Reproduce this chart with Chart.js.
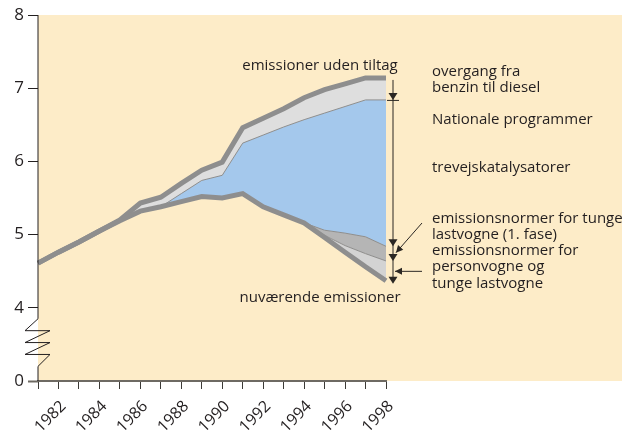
<!DOCTYPE html>
<html>
<head>
<meta charset="utf-8">
<script src="https://cdn.jsdelivr.net/npm/chart.js@4/dist/chart.umd.min.js"></script>
<style>
  html, body { margin: 0; padding: 0; background: #fff; }
  #wrap { width: 625px; height: 430px; }
</style>
</head>
<body>
<div id="wrap"><canvas id="emis" width="625" height="430"></canvas></div>
<script>
// data
var years = ['1981','1982','1983','1984','1985','1986','1987','1988','1989','1990','1991','1992','1993','1994','1995','1996','1997','1998'];
var utenTiltag   = [4.61,4.76,4.90,5.05,5.20,5.43,5.51,5.70,5.88,5.99,6.46,6.59,6.72,6.87,6.98,7.06,7.14,7.14];
var nationale    = [4.61,4.76,4.90,5.05,5.19,5.32,5.38,5.56,5.74,5.81,6.25,6.36,6.47,6.57,6.66,6.75,6.84,6.84];
var katalysator  = [4.61,4.76,4.90,5.05,5.19,5.32,5.38,5.45,5.52,5.50,5.56,5.38,5.27,5.16,5.06,5.02,4.97,4.84];
var tungeLast    = [4.61,4.76,4.90,5.05,5.19,5.32,5.38,5.45,5.52,5.50,5.56,5.38,5.27,5.16,4.99,4.85,4.74,4.64];
var nuvaerende   = [4.61,4.76,4.90,5.05,5.19,5.32,5.38,5.45,5.52,5.50,5.56,5.38,5.27,5.16,4.96,4.76,4.56,4.37];

// y axis is broken: position 3 carries the label "0"
var yTickValues = [3, 4, 5, 6, 7, 8];
var yTickLabels = ['0', '4', '5', '6', '7', '8'];

var txt = '#231f20';
var lineGrey = '#8e8e8e';
var fontFam = '"Open Sans", "DejaVu Sans", sans-serif';

var rightNotes = [
    ['overgang fra', 72], ['benzin til diesel', 88],
    ['Nationale programmer', 120],
    ['trevejskatalysatorer', 168],
    ['emissionsnormer for tunge', 219], ['lastvogne (1. fase)', 235],
    ['emissionsnormer for', 251], ['personvogne og', 267], ['tunge lastvogne', 284]
];

var bgPlugin = {
    id: 'bg',
    beforeDraw: function (chart) {
        var ctx = chart.ctx, a = chart.chartArea;
        ctx.save();
        ctx.fillStyle = '#fdecc8';
        ctx.fillRect(a.left, a.top, chart.width - 3 - a.left, a.bottom - a.top);
        ctx.restore();
    }
};

function arrowDown(ctx, x, y) {
    ctx.beginPath();
    ctx.moveTo(x, y);
    ctx.lineTo(x - 4.5, y - 7);
    ctx.lineTo(x + 4.5, y - 7);
    ctx.closePath();
    ctx.fill();
}

function arrowAt(ctx, x1, y1, x2, y2) {
    // line from (x1,y1) with a head at (x2,y2)
    var ang = Math.atan2(y2 - y1, x2 - x1);
    ctx.beginPath();
    ctx.moveTo(x1, y1);
    ctx.lineTo(x2, y2);
    ctx.stroke();
    ctx.beginPath();
    ctx.moveTo(x2, y2);
    ctx.lineTo(x2 - 7 * Math.cos(ang) + 3.5 * Math.sin(ang), y2 - 7 * Math.sin(ang) - 3.5 * Math.cos(ang));
    ctx.lineTo(x2 - 7 * Math.cos(ang) - 3.5 * Math.sin(ang), y2 - 7 * Math.sin(ang) + 3.5 * Math.cos(ang));
    ctx.closePath();
    ctx.fill();
}

var notesPlugin = {
    id: 'notes',
    afterDraw: function (chart) {
        var ctx = chart.ctx, a = chart.chartArea;
        var ys = chart.scales.y;
        var last = years.length - 1;
        var x0 = a.left;

        ctx.save();
        // y axis line with zigzag break
        ctx.strokeStyle = '#231f20';
        ctx.lineWidth = 1;
        var yb1 = ys.getPixelForValue(3.85), yb2 = ys.getPixelForValue(3.2);
        var step = (yb2 - yb1) / 4;
        ctx.beginPath();
        ctx.moveTo(x0, a.top);
        ctx.lineTo(x0, yb1);
        ctx.lineTo(x0 - 13, yb1 + step);
        ctx.lineTo(x0 + 12, yb1 + step);
        ctx.lineTo(x0 - 13, yb1 + 2 * step);
        ctx.lineTo(x0 + 12, yb1 + 2 * step);
        ctx.lineTo(x0 - 13, yb1 + 3 * step);
        ctx.lineTo(x0 + 12, yb1 + 3 * step);
        ctx.lineTo(x0, yb2);
        ctx.lineTo(x0, a.bottom);
        ctx.stroke();

        // labels
        ctx.fillStyle = txt;
        ctx.font = '15px ' + fontFam;
        ctx.textBaseline = 'middle';
        ctx.textAlign = 'center';
        ctx.fillText('emissioner uden tiltag', 320, 66);
        ctx.fillText('nuværende emissioner', 320, 298);
        ctx.textAlign = 'left';
        rightNotes.forEach(function (n) {
            ctx.fillText(n[0], 432, n[1]);
        });

        // arrows at the 1998 levels
        var ax = a.right + 7;
        var yTop = ys.getPixelForValue(utenTiltag[last]);
        var yNat = ys.getPixelForValue(nationale[last]);
        var yKat = ys.getPixelForValue(katalysator[last]);
        var yTun = ys.getPixelForValue(tungeLast[last]);
        var yNuv = ys.getPixelForValue(nuvaerende[last]);
        ctx.strokeStyle = '#2b2723';
        ctx.fillStyle = '#2b2723';
        ctx.beginPath();
        ctx.moveTo(ax, yTop + 2);
        ctx.lineTo(ax, yNuv);
        ctx.stroke();
        ctx.beginPath();
        ctx.moveTo(ax - 6, yNat + 0.5);
        ctx.lineTo(ax + 6, yNat + 0.5);
        ctx.stroke();
        arrowDown(ctx, ax, yNat);
        arrowDown(ctx, ax, yKat);
        arrowDown(ctx, ax, yTun);
        arrowDown(ctx, ax, yNuv + 3);
        arrowAt(ctx, 422, 223, ax + 3, (yKat + yTun) / 2 - 1);
        arrowAt(ctx, 422, (yTun + yNuv) / 2 + 0.5, ax + 2, (yTun + yNuv) / 2 + 0.5);
        ctx.restore();
    }
};

var thin = { borderColor: lineGrey, borderWidth: 1, pointRadius: 0, tension: 0 };

var chart = new Chart(document.getElementById('emis').getContext('2d'), {
    type: 'line',
    data: {
        labels: years,
        datasets: [
            { label: 'nuværende emissioner', data: nuvaerende, borderColor: lineGrey, borderWidth: 5, pointRadius: 0, fill: false },
            Object.assign({ label: 'tunge lastvogne', data: tungeLast, fill: '-1', backgroundColor: '#d3d3d3' }, thin),
            Object.assign({ label: 'trevejskatalysatorer', data: katalysator, fill: '-1', backgroundColor: '#b5b5b5' }, thin),
            Object.assign({ label: 'Nationale programmer', data: nationale, fill: '-1', backgroundColor: '#a4c8ec' }, thin),
            { label: 'emissioner uden tiltag', data: utenTiltag, borderColor: lineGrey, borderWidth: 5, pointRadius: 0, fill: '-1', backgroundColor: '#dedede' }
        ]
    },
    options: {
        responsive: false,
        animation: false,
        devicePixelRatio: 1,
        layout: { padding: { left: 0, top: 15, right: 239, bottom: 0 } },
        plugins: { legend: { display: false }, tooltip: { enabled: false } },
        scales: {
            x: {
                offset: false,
                border: { color: '#6e6a63', width: 2 },
                grid: { drawOnChartArea: false, tickLength: 8, tickColor: '#3c3a36' },
                ticks: {
                    autoSkip: false, maxRotation: 45, minRotation: 45, padding: 8, labelOffset: 5,
                    color: txt, font: { family: fontFam, size: 16 },
                    callback: function (v, i) { return i % 2 === 1 ? years[i] : ''; }
                },
                afterFit: function (s) { s.height = 49; }
            },
            y: {
                min: 3, max: 8,
                border: { display: false },
                grid: {
                    drawOnChartArea: false, tickLength: 10,
                    tickColor: function (c) { return c.tick && c.tick.value === 3 ? '#6e6a63' : '#231f20'; },
                    tickWidth: function (c) { return c.tick && c.tick.value === 3 ? 2 : 1; }
                },
                ticks: {
                    padding: 4, color: txt, font: { family: fontFam, size: 17 },
                    callback: function (v) { return yTickLabels[yTickValues.indexOf(v)]; }
                },
                afterBuildTicks: function (s) {
                    s.ticks = yTickValues.map(function (v) { return { value: v }; });
                },
                afterFit: function (s) { s.width = 38; }
            }
        }
    },
    plugins: [bgPlugin, notesPlugin]
});
</script>
</body>
</html>
